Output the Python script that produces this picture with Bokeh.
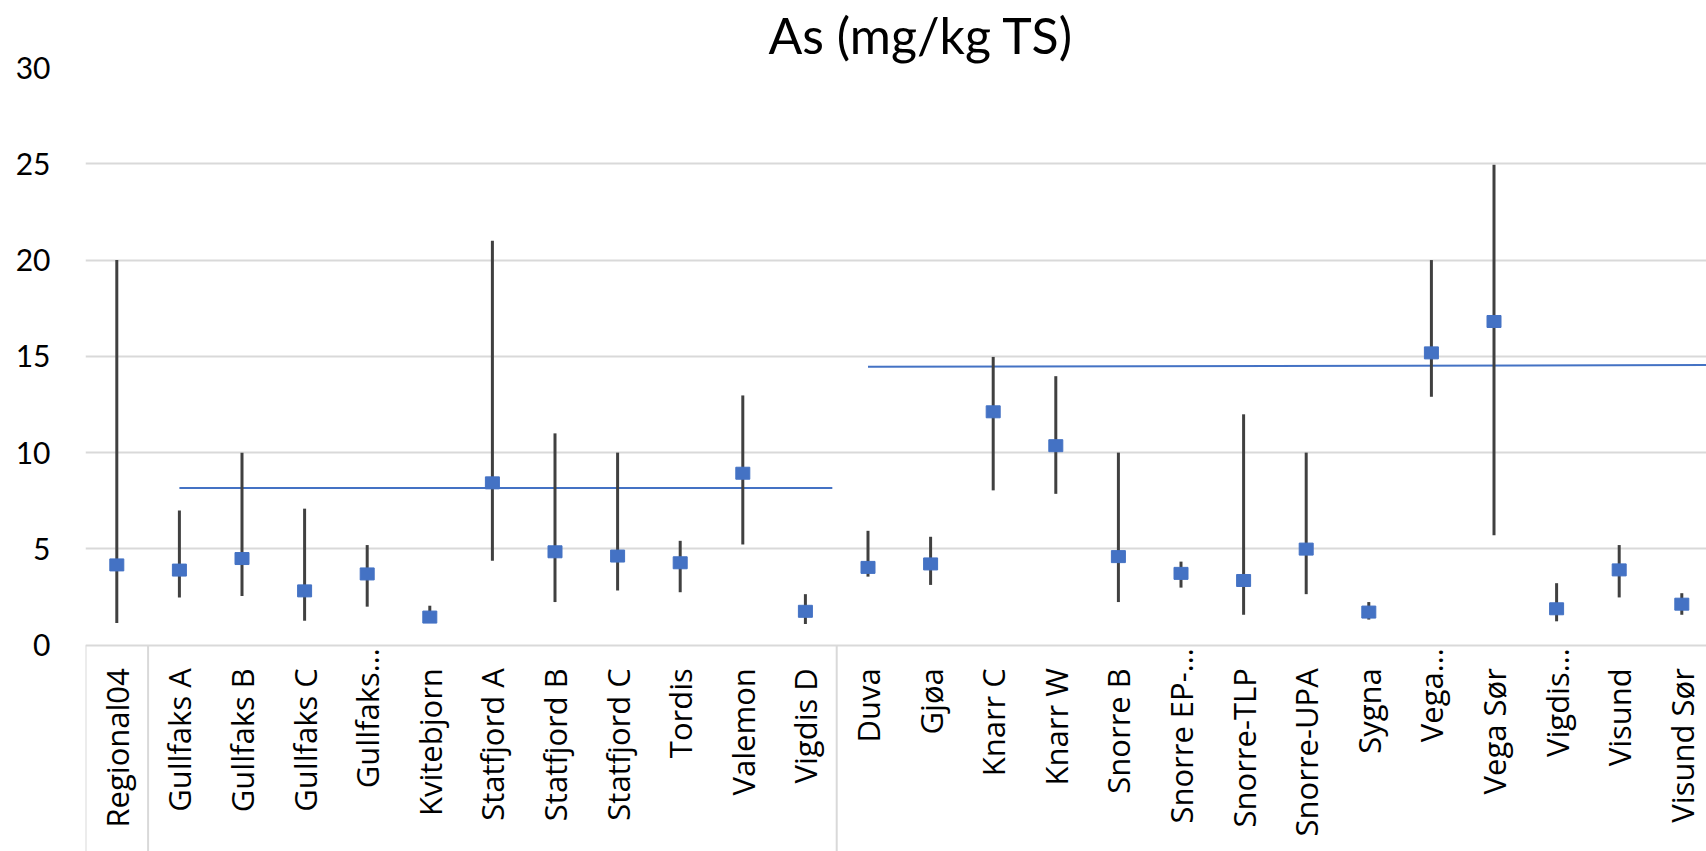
from math import pi
from bokeh.plotting import figure
from bokeh.models import Range1d, FixedTicker, ColumnDataSource
from bokeh.core.properties import value
from bokeh.embed import file_html
from bokeh.resources import INLINE

# ---------------- data ----------------
sites = ["Regional04", "Gullfaks A", "Gullfaks B", "Gullfaks C", "Gullfaks…",
         "Kvitebjorn", "Statfjord A", "Statfjord B", "Statfjord C", "Tordis",
         "Valemon", "Vigdis D", "Duva", "Gjøa", "Knarr C", "Knarr W",
         "Snorre B", "Snorre EP-…", "Snorre-TLP", "Snorre-UPA", "Sygna",
         "Vega…", "Vega Sør", "Vigdis…", "Visund", "Visund Sør"]
mean = [4.17, 3.90, 4.50, 2.82, 3.70, 1.46, 8.43, 4.85, 4.63, 4.28, 8.93, 1.76,
        4.04, 4.22, 12.12, 10.36, 4.60, 3.73, 3.36, 4.99, 1.72, 15.18, 16.81,
        1.89, 3.91, 2.13]
low = [1.15, 2.48, 2.56, 1.27, 2.00, 1.30, 4.39, 2.24, 2.84, 2.75, 5.23, 1.10,
       3.56, 3.13, 8.04, 7.86, 2.24, 2.99, 1.58, 2.65, 1.33, 12.90, 5.71,
       1.24, 2.48, 1.58]
high = [20.0, 7.00, 10.0, 7.09, 5.20, 2.05, 21.0, 11.0, 10.0, 5.42, 12.97, 2.65,
        5.94, 5.63, 14.97, 13.97, 10.0, 4.34, 11.99, 10.0, 2.24, 20.0, 24.95,
        3.22, 5.20, 2.70]
group_sizes = [1, 11, 14]
# group average lines (start/end category position, start/end level)
avg_x0 = [1, 12]
avg_x1 = [11.43, 25.43]
avg_y0 = [8.16, 14.46]
avg_y1 = [8.16, 14.55]
y_ticks = [0, 5, 10, 15, 20, 25, 30]
title_text = "As (mg/kg TS)"

# ---------------- figure ----------------
W, H = 1706, 851
TOP, LEFT = 64, 85
PX_PER_UNIT = 19.33
x_spacing = 62.6
frame_w = W - LEFT
frame_h = H - TOP
x_end = -0.5 + frame_w / x_spacing
y_start = 30 - frame_h / PX_PER_UNIT

p = figure(width=W, height=H, output_backend="svg", toolbar_location=None,
           x_range=Range1d(-0.5, x_end), y_range=Range1d(y_start, 30),
           x_axis_location=None, min_border_left=LEFT, min_border_right=0,
           min_border_top=TOP, min_border_bottom=0)
p.outline_line_color = None
p.background_fill_color = "white"
p.border_fill_color = "white"
p.xgrid.visible = False

p.title.text = title_text
p.title.text_font = "Lato"
p.title.text_font_size = "50px"
p.title.text_font_style = "normal"
p.title.text_color = "#000000"
p.title.align = "left"
p.title.offset = 768 - LEFT
p.title.standoff = 5

yaxis = p.yaxis[0]
yaxis.ticker = FixedTicker(ticks=y_ticks)
yaxis.axis_line_color = None
yaxis.major_tick_line_color = None
yaxis.minor_tick_line_color = None
yaxis.major_tick_out = 0
yaxis.major_tick_in = 0
yaxis.major_label_standoff = 35
yaxis.major_label_text_font = "Lato"
yaxis.major_label_text_font_size = "30px"
yaxis.major_label_text_color = "#000000"

p.ygrid.ticker = FixedTicker(ticks=y_ticks)
p.ygrid.grid_line_color = "#d9d9d9"
p.ygrid.grid_line_width = 2

idx = list(range(len(sites)))

# category-label box separators
bounds = []
acc = 0
for g in group_sizes:
    bounds.append(acc - 0.5)
    acc += g
p.segment(x0=bounds, y0=[0] * len(bounds), x1=bounds,
          y1=[y_start] * len(bounds), line_color="#d9d9d9", line_width=2)

# group average lines
p.segment(x0=avg_x0, y0=avg_y0, x1=avg_x1, y1=avg_y1,
          line_color="#4472C4", line_width=2)

# min-max bars
src = ColumnDataSource(dict(x=idx, mean=mean, low=low, high=high))
p.segment(x0="x", y0="low", x1="x", y1="high", source=src,
          line_color="#404040", line_width=3)

# mean markers
p.rect(x="x", y="mean", width=14, height=12, width_units="screen",
       height_units="screen", source=src, fill_color="#4472C4",
       line_color="#4472C4", line_width=1)

# category labels (vertical, reading upwards)
offsets = [3 if s.endswith("…") else 23 for s in sites]
p.text(x=idx, y=[0] * len(sites), text=sites, angle=pi / 2,
       text_align="right", text_baseline="middle",
       text_font=value("Open Sans"), text_font_size="31px",
       text_color="#000000", y_offset=offsets)

open("out.html", "w").write(file_html(p, INLINE))
